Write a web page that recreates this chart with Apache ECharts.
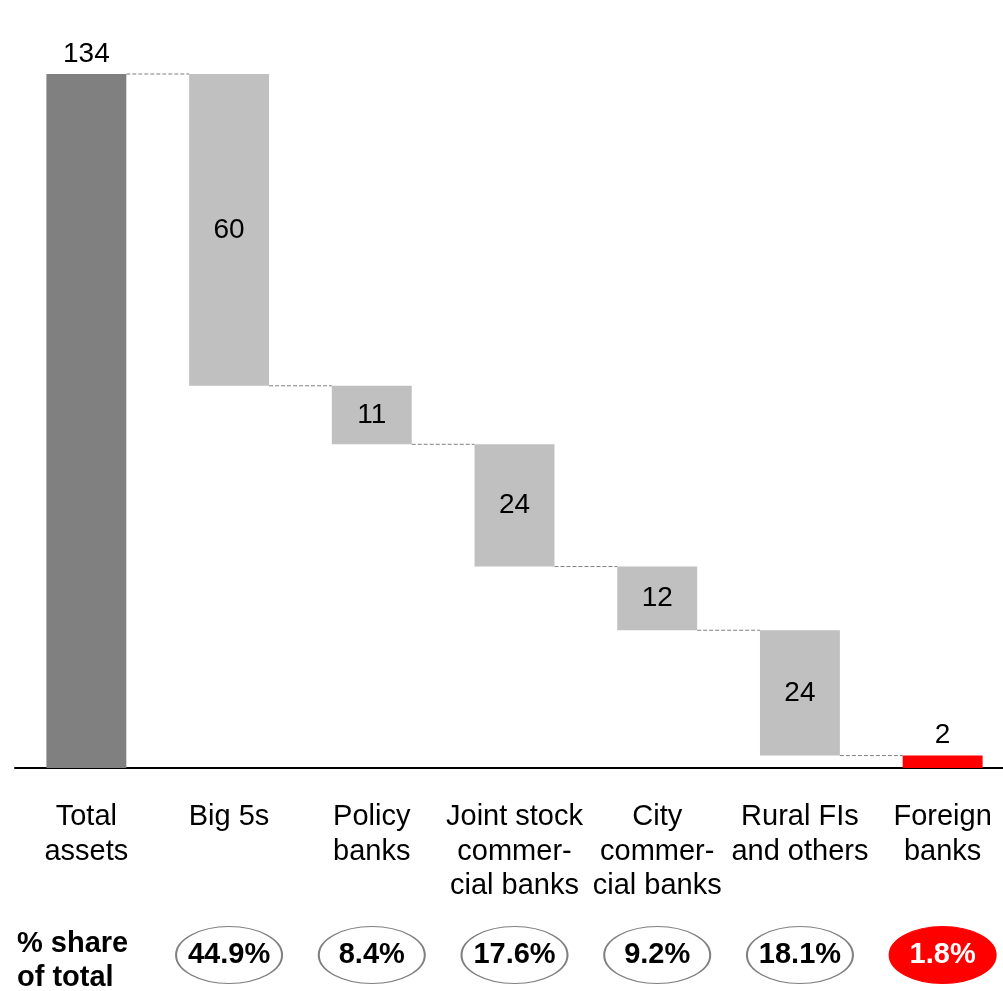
<!DOCTYPE html>
<html>
<head>
<meta charset="utf-8">
<style>
  html, body { margin: 0; padding: 0; background: #fff; }
  #chart { width: 1003px; height: 991px; }
</style>
<script src="https://cdn.jsdelivr.net/npm/echarts@6/dist/echarts.min.js"></script>
</head>
<body>
<div id="chart"></div>
<script>
// Banking assets by institution type (waterfall), with % share of total
const categories = ['Total\nassets', 'Big 5s', 'Policy\nbanks', 'Joint stock\ncommer-\ncial banks',
                    'City\ncommer-\ncial banks', 'Rural FIs\nand others', 'Foreign\nbanks'];
const totalAssets = 134;
const segmentValues = [60.2, 11.3, 23.6, 12.3, 24.2, 2.4];
const shareOfTotal = [44.9, 8.4, 17.6, 9.2, 18.1, 1.8];

const FONT = '"Liberation Sans", Arial, sans-serif';
const BAR_FRACTION = 0.56;

// Stacked waterfall: invisible base + visible segment
const values = [totalAssets].concat(segmentValues);
const bases = [0];
let running = totalAssets;
segmentValues.forEach(v => { running -= v; bases.push(Math.max(0, running)); });

// Connector levels: top of each following segment
const connectors = [];
for (let i = 0; i < values.length - 1; i++) {
  connectors.push([i, bases[i + 1] + values[i + 1]]);
}

const barColors = values.map((v, i) =>
  i === 0 ? '#808080' : (i === values.length - 1 ? '#ff0000' : '#c0c0c0'));

const lastShare = shareOfTotal.length - 1;
const shareData = shareOfTotal.map((v, i) => ({
  value: [i + 1, 0],
  itemStyle: i === lastShare
    ? { color: '#ff0000', borderColor: '#ff0000', borderWidth: 1.5, opacity: 1 }
    : { color: '#ffffff', borderColor: '#808080', borderWidth: 1.5, opacity: 1 },
  label: { color: i === lastShare ? '#ffffff' : '#000000' }
}));

const chart = echarts.init(document.getElementById('chart'), null, { renderer: 'canvas' });
chart.setOption({
  backgroundColor: '#ffffff',
  animation: false,
  textStyle: { fontFamily: FONT },
  grid: [
    { left: 15, width: 999, top: 74, bottom: 223, containLabel: false, outerBoundsMode: 'none' },
    { left: 15, width: 999, top: 927, height: 56, containLabel: false, outerBoundsMode: 'none' }
  ],
  xAxis: [
    {
      type: 'category', gridIndex: 0, data: categories,
      axisLine: { show: true, lineStyle: { color: '#000', width: 2 } },
      axisTick: { show: false },
      axisLabel: { interval: 0, color: '#000', fontSize: 29, lineHeight: 34.5,
                   margin: 32, fontFamily: FONT }
    },
    {
      type: 'category', gridIndex: 1, data: categories,
      axisLine: { show: false }, axisTick: { show: false }, axisLabel: { show: false }
    }
  ],
  yAxis: [
    { type: 'value', gridIndex: 0, min: 0, max: totalAssets, show: false },
    { type: 'value', gridIndex: 1, min: -1, max: 1, show: false }
  ],
  series: [
    {
      type: 'bar', stack: 'wf', xAxisIndex: 0, yAxisIndex: 0,
      data: bases, barWidth: (BAR_FRACTION * 100) + '%',
      itemStyle: { color: 'transparent' }, silent: true
    },
    {
      type: 'bar', stack: 'wf', xAxisIndex: 0, yAxisIndex: 0,
      barWidth: (BAR_FRACTION * 100) + '%',
      data: values.map((v, i) => ({
        value: v,
        itemStyle: { color: barColors[i] },
        label: {
          show: true,
          position: (i === 0 || i === values.length - 1) ? 'top' : 'inside',
          distance: 6,
          formatter: () => Math.round(v).toString(),
          color: '#000', fontSize: 28, fontFamily: FONT
        }
      }))
    },
    {
      type: 'custom', xAxisIndex: 0, yAxisIndex: 0, silent: true,
      data: connectors,
      renderItem: function (params, api) {
        const i = api.value(0);
        const level = api.value(1);
        const bw = api.size([1, 0])[0] * BAR_FRACTION;
        const p1 = api.coord([i, level]);
        const p2 = api.coord([i + 1, level]);
        return {
          type: 'line',
          shape: { x1: p1[0] + bw / 2, y1: p1[1], x2: p2[0] - bw / 2, y2: p2[1] },
          style: { stroke: '#808080', lineWidth: 1, lineDash: [4, 2] }
        };
      }
    },
    {
      type: 'scatter', xAxisIndex: 1, yAxisIndex: 1,
      symbol: 'circle', symbolSize: [106, 57],
      data: shareData,
      emphasis: { disabled: true },
      label: {
        show: true, position: 'inside',
        formatter: p => shareOfTotal[p.dataIndex].toFixed(1) + '%',
        fontSize: 29, fontWeight: 'bold', fontFamily: FONT
      }
    }
  ],
  graphic: [
    {
      type: 'text', left: 17, top: 927,
      style: { text: '% share\nof total', fill: '#000', fontSize: 29, fontWeight: 'bold',
               lineHeight: 34, fontFamily: FONT }
    }
  ]
});
</script>
</body>
</html>
